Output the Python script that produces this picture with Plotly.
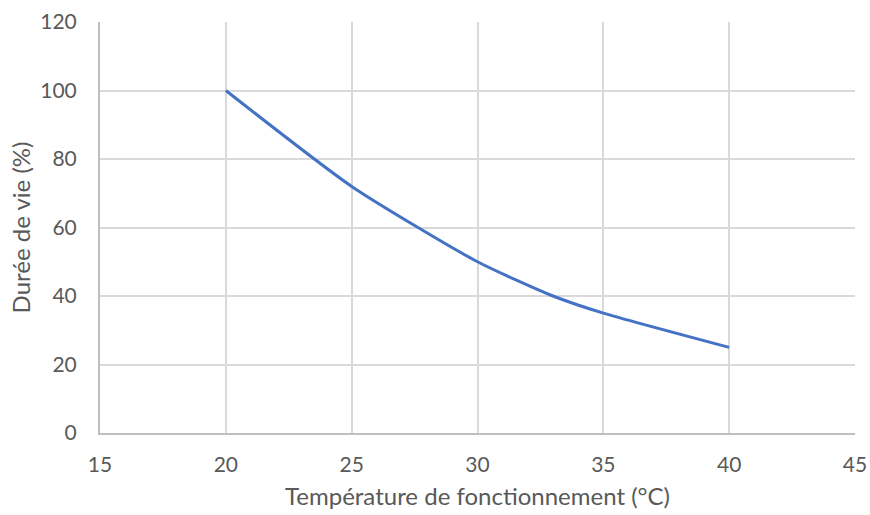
import plotly.graph_objects as go

temperature = [20, 25, 30, 33, 35, 40]
duree_vie = [100, 72, 50, 40, 35, 25]

x_ticks = [15, 20, 25, 30, 35, 40, 45]
y_ticks = [0, 20, 40, 60, 80, 100, 120]

fig = go.Figure()
fig.add_trace(go.Scatter(
    x=temperature, y=duree_vie, mode="lines",
    line=dict(color="#4472C4", width=3, shape="spline", smoothing=0.6),
    showlegend=False, hoverinfo="x+y"))

font = dict(family="Lato, 'Open Sans', sans-serif", color="#595959")
fig.update_layout(
    width=870, height=515,
    margin=dict(l=100, r=15, t=22, b=82),
    paper_bgcolor="white", plot_bgcolor="white",
    font=dict(size=20, **font),
)
fig.update_xaxes(
    range=[15, 45], tickvals=x_ticks, ticktext=[str(v) for v in x_ticks],
    showgrid=True, gridcolor="#d9d9d9", gridwidth=2,
    showline=True, linecolor="#bfbfbf", linewidth=2,
    ticks="", ticklen=0, zeroline=False, automargin=False,
    tickfont=dict(size=21), ticklabelstandoff=12,
    title=dict(text="Température de fonctionnement (°C)", font=dict(size=24), standoff=13),
)
fig.update_yaxes(
    range=[0, 120], tickvals=y_ticks, ticktext=[str(v) for v in y_ticks],
    showgrid=True, gridcolor="#d9d9d9", gridwidth=2,
    showline=True, linecolor="#bfbfbf", linewidth=2,
    ticks="", zeroline=False, automargin=False,
    tickfont=dict(size=21), ticklabelstandoff=17,
    title=dict(text="Durée de vie (%)", font=dict(size=24), standoff=3),
)
fig.write_html(
    "out.html",
    config={"displayModeBar": False},
    post_script="document.body.style.margin='0';document.body.style.overflow='hidden';",
)
